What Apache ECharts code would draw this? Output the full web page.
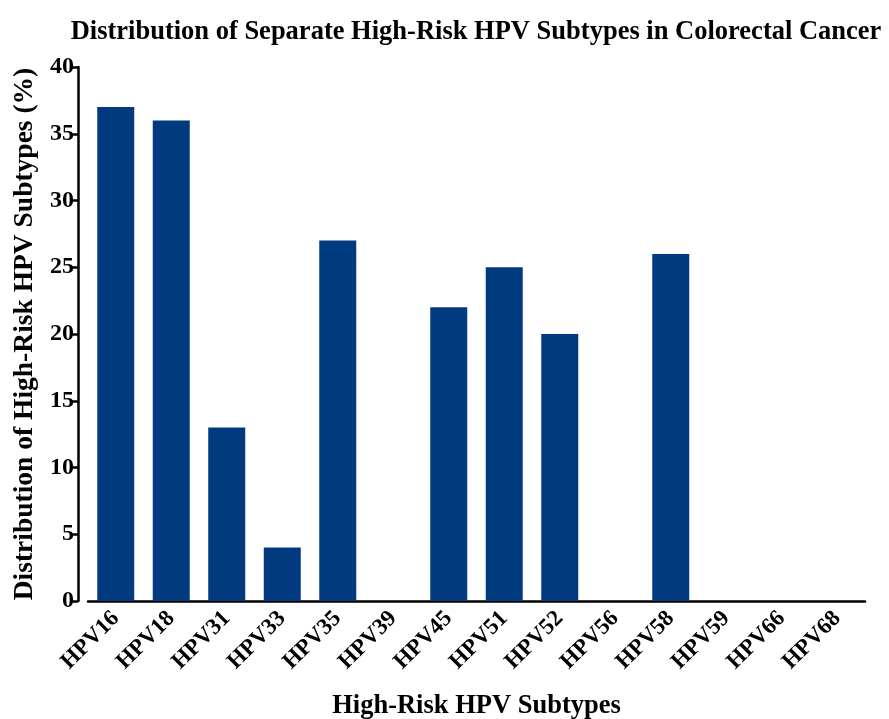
<!DOCTYPE html>
<html>
<head>
<meta charset="utf-8">
<script src="https://cdn.jsdelivr.net/npm/echarts@6/dist/echarts.min.js"></script>
<style>
  html, body { margin: 0; padding: 0; background: #fff; }
  #chart { width: 889px; height: 719px; }
</style>
</head>
<body>
<div id="chart"></div>
<script>
const subtypes = ['HPV16', 'HPV18', 'HPV31', 'HPV33', 'HPV35', 'HPV39', 'HPV45',
  'HPV51', 'HPV52', 'HPV56', 'HPV58', 'HPV59', 'HPV66', 'HPV68'];
const distribution = [37, 36, 13, 4, 27, 0, 22, 25, 20, 0, 26, 0, 0, 0];

const chart = echarts.init(document.getElementById('chart'));
const serif = '"Liberation Serif", "DejaVu Serif", serif';

chart.setOption({
  animation: false,
  title: {
    text: 'Distribution of Separate High-Risk HPV Subtypes in Colorectal Cancer',
    left: 471,
    top: 14,
    textAlign: 'center',
    textStyle: { fontFamily: serif, fontWeight: 'bold', fontSize: 26.5, color: '#000' },
  },
  grid: { left: 88, right: 24, top: 67, bottom: 118, outerBoundsMode: 'none', containLabel: false },
  xAxis: {
    type: 'category',
    data: subtypes,
    name: 'High-Risk HPV Subtypes',
    nameLocation: 'middle',
    nameGap: 92,
    nameTextStyle: { fontFamily: serif, fontWeight: 'bold', fontSize: 26.5, color: '#000' },
    axisLine: { lineStyle: { color: '#000', width: 2.5 } },
    axisTick: { alignWithLabel: true, length: 6, lineStyle: { color: '#000', width: 2.5 } },
    axisLabel: {
      rotate: 45,
      margin: 14,
      fontFamily: serif,
      fontWeight: 'bold',
      fontSize: 23,
      color: '#000',
    },
  },
  yAxis: {
    type: 'value',
    min: 0,
    max: 40,
    interval: 5,
    offset: 10,
    name: 'Distribution of High-Risk HPV Subtypes (%)',
    nameLocation: 'middle',
    nameGap: 34,
    nameRotate: 90,
    nameTextStyle: { fontFamily: serif, fontWeight: 'bold', fontSize: 27.5, color: '#000' },
    axisLine: { show: true, lineStyle: { color: '#000', width: 2.5 } },
    axisTick: { show: true, length: 6, lineStyle: { color: '#000', width: 2.5 } },
    axisLabel: { margin: 4, fontFamily: serif, fontWeight: 'bold', fontSize: 24, color: '#000' },
    splitLine: { show: false },
  },
  series: [
    {
      type: 'bar',
      data: distribution,
      barWidth: 37,
      itemStyle: { color: '#023a80' },
    },
  ],
});
</script>
</body>
</html>
